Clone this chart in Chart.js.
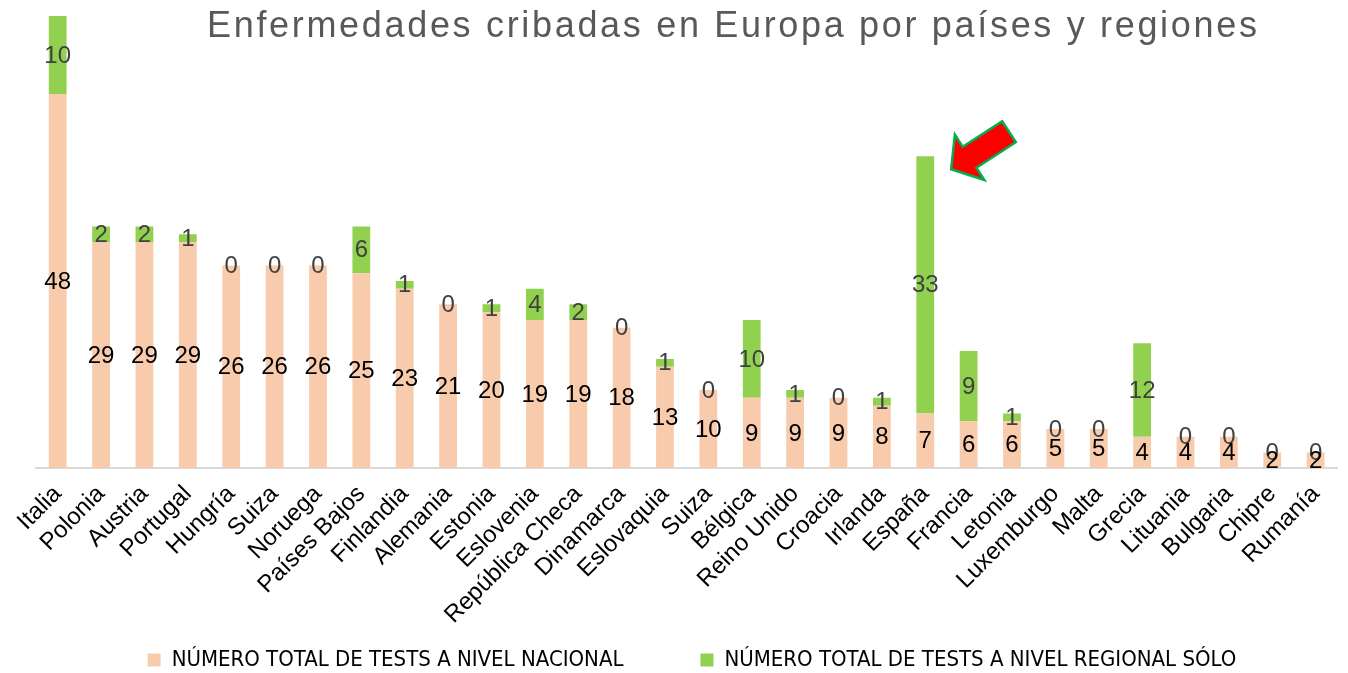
<!DOCTYPE html>
<html>
<head>
<meta charset="utf-8">
<script src="https://cdn.jsdelivr.net/npm/chart.js@4"></script>
<style>
  html, body { margin: 0; padding: 0; background: #fff; }
  #wrap { width: 1348px; height: 673px; position: relative; }
</style>
</head>
<body>
<div id="wrap"><canvas id="chart"></canvas></div>
<script>
const titleText = "Enfermedades cribadas en Europa por países y regiones";

const countries = [
  "Italia", "Polonia", "Austria", "Portugal", "Hungría", "Suiza", "Noruega",
  "Países Bajos", "Finlandia", "Alemania", "Estonia", "Eslovenia",
  "República Checa", "Dinamarca", "Eslovaquia", "Suiza", "Bélgica",
  "Reino Unido", "Croacia", "Irlanda", "España", "Francia", "Letonia",
  "Luxemburgo", "Malta", "Grecia", "Lituania", "Bulgaria", "Chipre", "Rumanía"
];
const nationalTests = [48, 29, 29, 29, 26, 26, 26, 25, 23, 21, 20, 19, 19, 18, 13, 10, 9, 9, 9, 8, 7, 6, 6, 5, 5, 4, 4, 4, 2, 2];
const regionalTests = [10, 2, 2, 1, 0, 0, 0, 6, 1, 0, 1, 4, 2, 0, 1, 0, 10, 1, 0, 1, 33, 9, 1, 0, 0, 12, 0, 0, 0, 0];
const seriesNames = ["NÚMERO TOTAL DE TESTS A NIVEL NACIONAL", "NÚMERO TOTAL DE TESTS A NIVEL REGIONAL SÓLO"];
const highlighted = "España";

const peach = "#F8CBAD";
const green = "#92D050";

// etiquetas de valor centradas en cada segmento
const valueLabels = {
  id: "valueLabels",
  afterDatasetsDraw(chart) {
    const ctx = chart.ctx;
    ctx.save();
    ctx.font = "24px 'Liberation Sans', Arial, sans-serif";
    ctx.textAlign = "center";
    ctx.textBaseline = "middle";
    // regional primero, nacional encima
    [1, 0].forEach(di => {
      const meta = chart.getDatasetMeta(di);
      const values = chart.data.datasets[di].data;
      ctx.fillStyle = di === 0 ? "#000000" : "#404040";
      meta.data.forEach((bar, i) => {
        const p = bar.getProps(["x", "y", "base"], true);
        ctx.fillText(String(values[i]), p.x, (p.y + p.base) / 2 + 1);
      });
    });
    ctx.restore();
  }
};

// título y flecha
const decorations = {
  id: "decorations",
  afterDraw(chart) {
    const ctx = chart.ctx;
    ctx.save();
    ctx.font = "36px 'Liberation Sans', Arial, sans-serif";
    const raw = ctx.measureText(titleText).width;
    const spacing = (1050 - raw) / (titleText.length - 1);
    ctx.letterSpacing = spacing.toFixed(2) + "px";
    ctx.fillStyle = "#595959";
    ctx.textAlign = "left";
    ctx.textBaseline = "alphabetic";
    ctx.fillText(titleText, 207, 37);
    ctx.restore();

    const idx = countries.indexOf(highlighted);
    const bar = chart.getDatasetMeta(1).data[idx];
    const tipX = bar.x + bar.width / 2 + 17;
    const tipY = bar.y + 13;
    ctx.save();
    ctx.translate(tipX, tipY);
    ctx.rotate(Math.atan2(-37, 57));
    const headLen = 22, headW = 54, shaftW = 25, total = 69;
    ctx.beginPath();
    ctx.moveTo(0, 0);
    ctx.lineTo(headLen, -headW / 2);
    ctx.lineTo(headLen, -shaftW / 2);
    ctx.lineTo(total, -shaftW / 2);
    ctx.lineTo(total, shaftW / 2);
    ctx.lineTo(headLen, shaftW / 2);
    ctx.lineTo(headLen, headW / 2);
    ctx.closePath();
    ctx.fillStyle = "#FF0000";
    ctx.fill();
    ctx.lineWidth = 2.5;
    ctx.lineJoin = "miter";
    ctx.strokeStyle = "#00B050";
    ctx.stroke();
    ctx.restore();
  }
};

const ctx = document.getElementById("chart").getContext("2d");
new Chart(ctx, {
  type: "bar",
  data: {
    labels: countries,
    datasets: [
      {
        label: seriesNames[0],
        data: nationalTests,
        backgroundColor: peach,
        barPercentage: 0.41,
        categoryPercentage: 1.0,
      },
      {
        label: seriesNames[1],
        data: regionalTests,
        backgroundColor: green,
        barPercentage: 0.41,
        categoryPercentage: 1.0,
      },
    ],
  },
  options: {
    responsive: true,
    maintainAspectRatio: false,
    animation: false,
    layout: {
      padding: { top: 16, left: 36, right: 0, bottom: -8 },
    },
    scales: {
      x: {
        stacked: true,
        grid: { display: false, drawTicks: false },
        border: { display: true, color: "#D9D9D9", width: 2 },
        ticks: {
          color: "#000000",
          font: { family: "'Liberation Sans', Arial, sans-serif", size: 24 },
          maxRotation: 45,
          minRotation: 45,
          autoSkip: false,
          padding: 12,
        },
        afterFit(scale) {
          scale.height = 104;
          // las etiquetas largas bajan por debajo de la caja del eje: sin recorte
          scale._computeLabelArea = () => undefined;
        },
      },
      y: {
        stacked: true,
        display: false,
        min: 0,
        max: 58,
      },
    },
    plugins: {
      legend: {
        position: "bottom",
        labels: {
          color: "#000000",
          boxWidth: 13,
          boxHeight: 13,
          padding: 77,
          font: { family: "'Liberation Sans Narrow', 'DejaVu Sans Condensed', 'Arial Narrow', sans-serif", size: 22 },
        },
      },
      tooltip: { enabled: false },
    },
  },
  plugins: [valueLabels, decorations],
});
</script>
</body>
</html>
